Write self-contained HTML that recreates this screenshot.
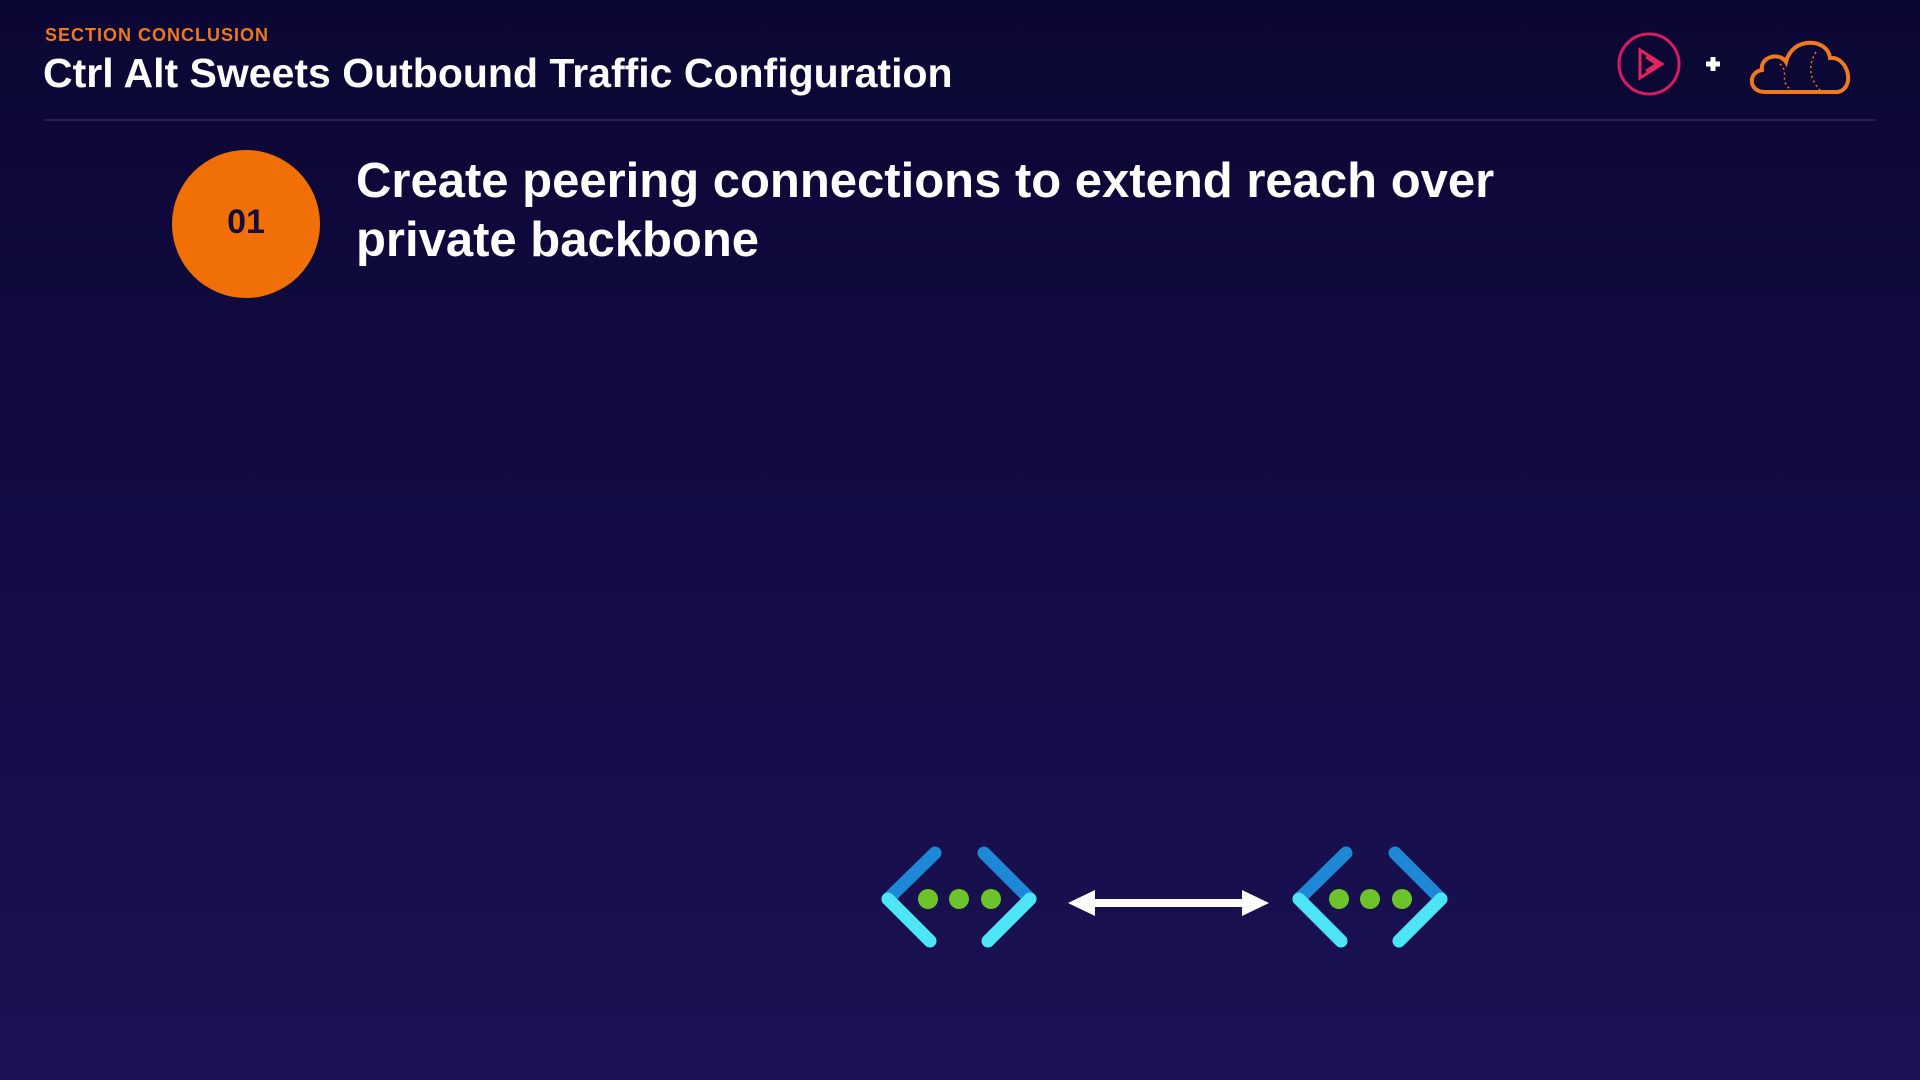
<!DOCTYPE html>
<html><head><style>
html,body{margin:0;padding:0}
body{width:1920px;height:1080px;position:relative;overflow:hidden;background:linear-gradient(180deg,#0b0733 0%,#130c45 50%,#1b1253 100%);font-family:"Liberation Sans",sans-serif}
.t{position:absolute;color:#fff;font-weight:bold;white-space:nowrap}
</style></head><body>
<div class="t" style="left:45px;top:25px;font-size:18px;color:#f0781e;letter-spacing:1px">SECTION CONCLUSION</div>
<div class="t" style="left:43px;top:50px;font-size:41px;letter-spacing:0px">Ctrl Alt Sweets Outbound Traffic Configuration</div>
<div style="position:absolute;left:44px;top:119px;width:1832px;height:2px;background:#26214f"></div>
<svg style="position:absolute;left:1610px;top:28px" width="260" height="72">
<circle cx="39" cy="36" r="30" fill="none" stroke="#d81b60" stroke-width="3"/>
<path d="M30 22 L52 36 L30 50 Z M36 29 L47 36 L36 43" fill="none" stroke="#e0245e" stroke-width="3"/>
<path d="M96 36 h14 M103 29 v14" stroke="#fff" stroke-width="5"/>
<path d="M155 64 C138 64 138 44 152 42 C150 28 170 24 176 34 C182 8 218 10 220 30 C238 28 246 60 228 64 Z" fill="none" stroke="#f0781e" stroke-width="4"/>
<path d="M170 36 C180 44 168 54 182 62 M206 24 C196 40 202 54 210 62" fill="none" stroke="#f0781e" stroke-width="1.5" stroke-dasharray="2 3"/>
</svg>
<div style="position:absolute;left:172px;top:150px;width:148px;height:148px;border-radius:50%;background:#f07005"></div>
<div class="t" style="left:172px;top:203px;width:148px;text-align:center;font-size:34px;color:#140f3a">01</div>
<div class="t" style="left:356px;top:152px;font-size:49px;line-height:59px">Create peering connections to extend reach over<br>private backbone</div>
<svg style="position:absolute;left:0;top:0" width="1920" height="1080">
<defs><g id="v">
<path d="M55 0 L8 46" stroke="#1e88d6" stroke-width="13" stroke-linecap="round"/>
<path d="M8 46 L50 88" stroke="#4de4f5" stroke-width="13" stroke-linecap="round"/>
<path d="M104 0 L150 46" stroke="#1e88d6" stroke-width="13" stroke-linecap="round"/>
<path d="M150 46 L108 88" stroke="#4de4f5" stroke-width="13" stroke-linecap="round"/>
<circle cx="48" cy="46" r="10" fill="#6cc42a"/><circle cx="79" cy="46" r="10" fill="#6cc42a"/><circle cx="111" cy="46" r="10" fill="#6cc42a"/>
</g></defs>
<use href="#v" x="880" y="853"/>
<use href="#v" x="1291" y="853"/>
<path d="M1090 903 H1245" stroke="#fff" stroke-width="8"/>
<path d="M1068 903 L1095 890 V916 Z M1269 903 L1242 890 V916 Z" fill="#fff"/>
</svg>
</body></html>
